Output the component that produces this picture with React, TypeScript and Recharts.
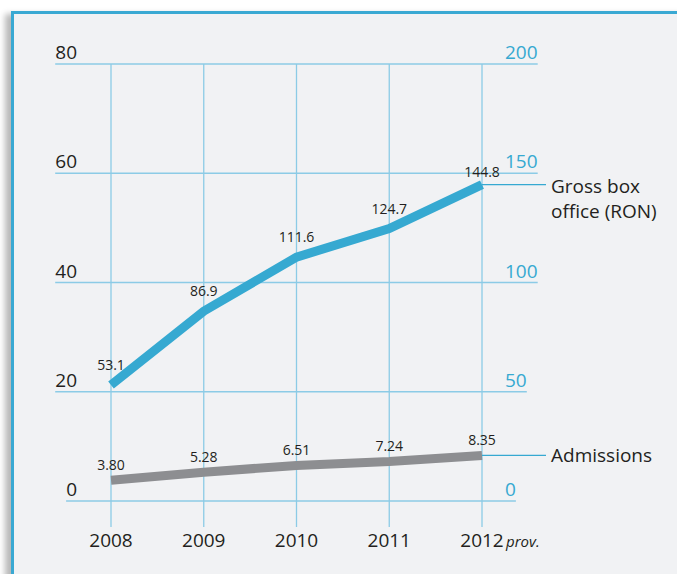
import React from 'react';
import { LineChart, Line, XAxis, YAxis, CartesianGrid, LabelList } from 'recharts';

const years = [2008, 2009, 2010, 2011, 2012];
const yearNotes = ['', '', '', '', 'prov.'];
const admissions = [3.8, 5.28, 6.51, 7.24, 8.35];
const grossBoxOffice = [53.1, 86.9, 111.6, 124.7, 144.8];
const leftTicks = [0, 20, 40, 60, 80];
const rightTicks = [0, 50, 100, 150, 200];
const grossName = ['Gross box', 'office (RON)'];
const admissionsName = ['Admissions'];

const data = years.map((year, i) => ({ year, admissions: admissions[i], gross: grossBoxOffice[i] }));

const FONT = '"Open Sans", "DejaVu Sans", sans-serif';
const DARK = '#231f20';
const BLUE = '#36a9d1';
const GRAY = '#8d8e91';
const GRID = '#8ccbe6';
const DIGIT_W = 10.9;
const LEFT_LABEL_END = 77;
const RIGHT_LABEL_START = 505;

const LeftTick = (props: any) => {
  const { y, payload } = props;
  return (
    <text x={LEFT_LABEL_END} y={y - 5} textAnchor="end" fontSize={19} fontFamily={FONT} fill={DARK}>
      {payload.value}
    </text>
  );
};

const RightTick = (props: any) => {
  const { y, payload } = props;
  return (
    <text x={RIGHT_LABEL_START} y={y - 5} textAnchor="start" fontSize={19} fontFamily={FONT} fill={BLUE}>
      {payload.value}
    </text>
  );
};

const XTick = (props: any) => {
  const { x, payload, index } = props;
  const yy = 547;
  const note = yearNotes[index];
  return (
    <g>
      <text x={x} y={yy} textAnchor="middle" fontSize={19} fontFamily={FONT} fill={DARK}>
        {payload.value}
      </text>
      {note ? (
        <text x={x + 24} y={yy} textAnchor="start" fontSize={15} fontStyle="italic" fontFamily={FONT} fill={DARK}>
          {note}
        </text>
      ) : null}
    </g>
  );
};

const horizontalLine = (props: any) => {
  const i = props.index;
  if (leftTicks[i] === undefined) return <g key={`h-${i}`} />;
  const l = String(leftTicks[i]);
  const r = String(rightTicks[i]);
  const x1 = LEFT_LABEL_END - l.length * DIGIT_W;
  const x2 = RIGHT_LABEL_START + r.length * DIGIT_W;
  return <line key={`h-${i}`} x1={x1} x2={x2} y1={props.y1} y2={props.y2} stroke={GRID} strokeWidth={1.3} />;
};

const makeValueLabel = (digits: number, offset: number, lastOffset: number) => (props: any) => {
  const { x, y, value, index } = props;
  const off = index === years.length - 1 ? lastOffset : offset;
  return (
    <text x={x} y={y - off} textAnchor="middle" fontSize={14} fontFamily={FONT} fill={DARK}>
      {Number(value).toFixed(digits)}
    </text>
  );
};

const makeEndLabel = (lines: string[], firstDy: number, color: string) => (props: any) => {
  const { x, y, index } = props;
  if (index !== years.length - 1) return null;
  return (
    <g>
      <line x1={x} x2={x + 64} y1={y} y2={y} stroke={color} strokeWidth={1.3} />
      <text x={x + 69} y={y + firstDy} fontSize={19} fontFamily={FONT} fill={DARK}>
        {lines.map((t, k) => (
          <tspan key={k} x={x + 69} dy={k === 0 ? 0 : 25}>
            {t}
          </tspan>
        ))}
      </text>
    </g>
  );
};

export default function App() {
  return (
    <div style={{ position: 'absolute', left: 0, top: 0, width: 677, height: 574, background: '#ffffff', overflow: 'hidden' }}>
      <div
        style={{
          position: 'absolute',
          left: 11,
          top: 11,
          width: 680,
          height: 580,
          boxSizing: 'border-box',
          borderTop: '3px solid #3aa9d3',
          borderLeft: '3px solid #3aa9d3',
          background: '#f1f2f4',
          boxShadow: '-6px 3px 6px rgba(0,0,0,0.28)',
        }}
      />
      <div style={{ position: 'absolute', left: 0, top: 0 }}>
        <LineChart width={677} height={574} data={data} margin={{ top: 64, right: 119, left: 35, bottom: 17 }}>
          <CartesianGrid
            yAxisId="left"
            stroke={GRID}
            strokeWidth={1.3}
            horizontal={horizontalLine}
            vertical={true}
            syncWithTicks={true}
          />
          <XAxis
            dataKey="year"
            type="number"
            domain={[2008, 2012]}
            ticks={years}
            padding={{ left: 56, right: 56 }}
            axisLine={false}
            tickLine={false}
            height={30}
            tick={XTick}
            interval={0}
          />
          <YAxis
            yAxisId="left"
            domain={[0, 80]}
            ticks={leftTicks}
            padding={{ top: 0, bottom: 26 }}
            width={20}
            axisLine={false}
            tickLine={false}
            tick={LeftTick}
            interval={0}
          />
          <YAxis
            yAxisId="right"
            orientation="right"
            domain={[0, 200]}
            ticks={rightTicks}
            padding={{ top: 0, bottom: 26 }}
            width={20}
            axisLine={false}
            tickLine={false}
            tick={RightTick}
            interval={0}
          />
          <Line
            yAxisId="right"
            dataKey="gross"
            stroke={BLUE}
            strokeWidth={9}
            strokeLinecap="butt"
            dot={false}
            activeDot={false}
            isAnimationActive={false}
          >
            <LabelList dataKey="gross" content={makeValueLabel(1, 15, 8)} />
            <LabelList dataKey="gross" content={makeEndLabel(grossName, 8, BLUE)} />
          </Line>
          <Line
            yAxisId="left"
            dataKey="admissions"
            stroke={GRAY}
            strokeWidth={9}
            strokeLinecap="butt"
            dot={false}
            activeDot={false}
            isAnimationActive={false}
          >
            <LabelList dataKey="admissions" content={makeValueLabel(2, 10, 10)} />
            <LabelList dataKey="admissions" content={makeEndLabel(admissionsName, 7, BLUE)} />
          </Line>
        </LineChart>
      </div>
    </div>
  );
}
